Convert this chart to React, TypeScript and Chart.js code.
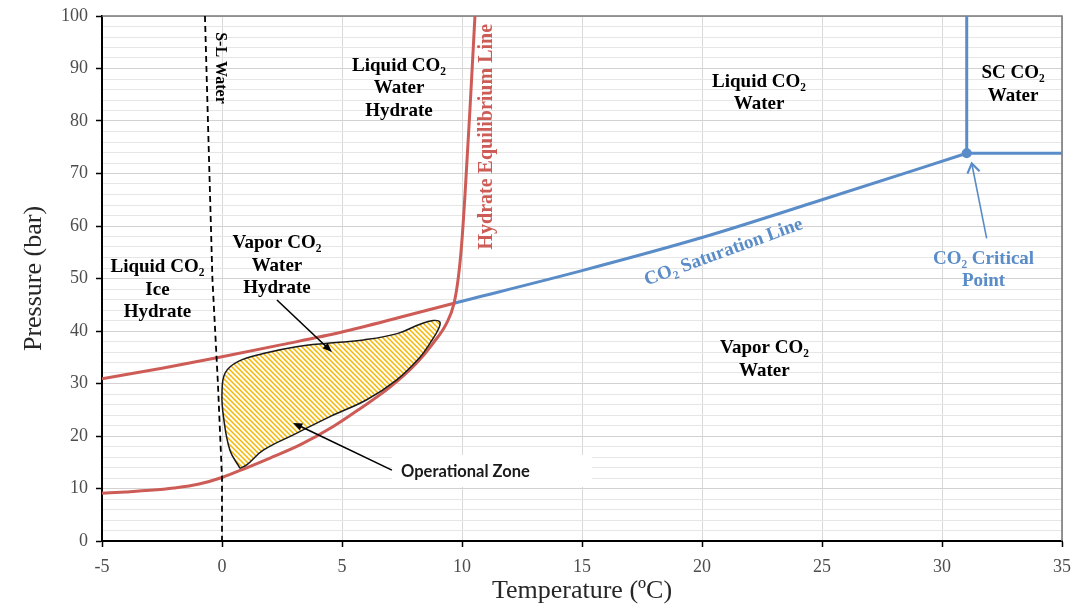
import React, { useEffect, useRef } from 'react';
import { Chart, registerables } from 'chart.js';

Chart.register(...registerables);

// ---- axes ----
const tempMin = -5;
const tempMax = 35;
const tempStep = 5;
const presMin = 0;
const presMax = 100;
const presStep = 2;
const presLabelStep = 10;

// ---- series (temperature °C, pressure bar) ----
const hydrateLowerT = [-5, -4, -3, -2, -1, 0, 1, 2, 3.25, 4.6, 5.75, 7, 8.11, 8.8, 9.36, 9.67, 9.85, 9.99, 10.13, 10.33, 10.54];
const hydrateLowerP = [9.1, 9.35, 9.65, 10.1, 10.8, 12.1, 13.9, 15.8, 18.3, 21.7, 25.2, 29.3, 33.9, 37.7, 41.5, 45.3, 50.3, 56.8, 66.3, 82.1, 100];
const hydrateUpperT = [-5, -2.5, 0, 2.5, 5, 7.5, 9.67];
const hydrateUpperP = [30.9, 32.9, 35.1, 37.4, 39.8, 42.7, 45.3];
const saturationT = [9.67, 15, 20, 25, 31.03];
const saturationP = [45.3, 51.5, 57.8, 65, 73.85];
const criticalT = [31.03];
const criticalP = [73.85];
const scVerticalT = [31.03, 31.03];
const scVerticalP = [73.85, 100];
const scHorizontalT = [31.03, 35];
const scHorizontalP = [73.85, 73.85];
const slWaterT = [-0.71, -0.4, -0.17, 0, 0];
const slWaterP = [100, 50, 30, 12, 0];
const zoneT = [0.75, 0.33, 0.06, 0.0, 0.13, 0.68, 1.72, 3.1, 4.5, 5.9, 7.3, 8.25, 8.8, 9.08, 9.0, 8.67, 8.25, 7.28, 6.03, 4.5, 3.1, 1.72, 1.03, 0.75];
const zoneP = [13.85, 17.3, 23.7, 28.1, 32, 34.2, 35.7, 37, 37.7, 38.3, 39.5, 41.3, 42.0, 41.7, 40.2, 37.7, 35.0, 30.7, 26.9, 23.7, 20.5, 17.3, 14.5, 13.85];

// ---- text annotations (anchored in data units) ----
const regionLabels = [
  { lines: ['Liquid CO₂', 'Water', 'Hydrate'], t: 7.375, p: 86.2, color: '#000' },
  { lines: ['Liquid CO₂', 'Water'], t: 22.375, p: 85.3, color: '#000' },
  { lines: ['SC CO₂', 'Water'], t: 32.96, p: 86.9, color: '#000' },
  { lines: ['Vapor CO₂', 'Water', 'Hydrate'], t: 2.29, p: 52.4, color: '#000' },
  { lines: ['Liquid CO₂', 'Ice', 'Hydrate'], t: -2.69, p: 47.8, color: '#000' },
  { lines: ['Vapor CO₂', 'Water'], t: 22.6, p: 34.6, color: '#000' },
  { lines: ['CO₂ Critical', 'Point'], t: 31.73, p: 51.6, color: 'blue' },
];
const rotatedLabels = [
  { text: 'S-L Water', t: -0.08, p: 90.1, angle: 90, size: 16, color: '#000' },
  { text: 'Hydrate Equilibrium Line', t: 11.02, p: 77.0, angle: -90, size: 20, color: 'red' },
  { text: 'CO₂ Saturation Line', t: 20.9, p: 55.0, angle: -20, size: 19, color: 'blue' },
];
const arrows = [
  { from: [2.29, 45.9], to: [4.58, 36.0], color: 'black', filled: true },
  { from: [7.08, 13.5], to: [2.96, 22.5], color: 'black', filled: true },
  { from: [31.86, 57.66], to: [31.24, 71.9], color: 'blue', filled: false },
];
const zoneBox = { t1: 7.08, t2: 15.42, p1: 16.38, p2: 10.29, text: 'Operational Zone', textT: 7.46, textP: 13.3 };

const RED = '#cd5c57';
const BLUE = '#5a8cc8';
const YELLOW = '#f6b600';
const colorOf = (c: string) => (c === 'red' ? RED : c === 'blue' ? BLUE : '#000');

const pts = (xs: number[], ys: number[]) => xs.map((x, i) => ({ x, y: ys[i] }));

function drawArrow(ctx: CanvasRenderingContext2D, x1: number, y1: number, x2: number, y2: number, color: string, filled: boolean) {
  const a = Math.atan2(y2 - y1, x2 - x1);
  ctx.save();
  ctx.strokeStyle = color;
  ctx.fillStyle = color;
  ctx.lineWidth = 1.6;
  const head = filled ? 10 : 11;
  const spread = filled ? 0.38 : 0.6;
  ctx.beginPath();
  ctx.moveTo(x1, y1);
  const endX = filled ? x2 - head * 0.8 * Math.cos(a) : x2;
  const endY = filled ? y2 - head * 0.8 * Math.sin(a) : y2;
  ctx.lineTo(endX, endY);
  ctx.stroke();
  const hx1 = x2 - head * Math.cos(a - spread);
  const hy1 = y2 - head * Math.sin(a - spread);
  const hx2 = x2 - head * Math.cos(a + spread);
  const hy2 = y2 - head * Math.sin(a + spread);
  ctx.beginPath();
  if (filled) {
    ctx.moveTo(x2, y2);
    ctx.lineTo(hx1, hy1);
    ctx.lineTo(hx2, hy2);
    ctx.closePath();
    ctx.fill();
  } else {
    ctx.lineWidth = 2.2;
    ctx.moveTo(hx1, hy1);
    ctx.lineTo(x2, y2);
    ctx.lineTo(hx2, hy2);
    ctx.stroke();
  }
  ctx.restore();
}

const annotationPlugin = {
  id: 'phaseAnnotations',
  beforeDatasetsDraw(chart: any) {
    const { ctx, chartArea } = chart;
    ctx.save();
    ctx.strokeStyle = '#7a7a7a';
    ctx.lineWidth = 1.6;
    ctx.beginPath();
    ctx.moveTo(chartArea.left, chartArea.top);
    ctx.lineTo(chartArea.right, chartArea.top);
    ctx.lineTo(chartArea.right, chartArea.bottom);
    ctx.stroke();
    ctx.restore();
  },
  afterDatasetsDraw(chart: any) {
    const { ctx } = chart;
    const xs = chart.scales.x;
    const ys = chart.scales.y;
    const X = (v: number) => xs.getPixelForValue(v);
    const Y = (v: number) => ys.getPixelForValue(v);
    ctx.save();

    // operational zone callout box
    ctx.fillStyle = '#ffffff';
    ctx.fillRect(X(zoneBox.t1), Y(zoneBox.p1), X(zoneBox.t2) - X(zoneBox.t1), Y(zoneBox.p2) - Y(zoneBox.p1));
    ctx.fillStyle = '#1a1a1a';
    ctx.font = 'bold 16.5px Lato, "Open Sans", sans-serif';
    ctx.textAlign = 'left';
    ctx.textBaseline = 'middle';
    ctx.fillText(zoneBox.text, X(zoneBox.textT), Y(zoneBox.textP));

    // arrows
    arrows.forEach((a) => {
      drawArrow(ctx, X(a.from[0]), Y(a.from[1]), X(a.to[0]), Y(a.to[1]), colorOf(a.color), a.filled);
    });

    // region labels
    ctx.textAlign = 'center';
    ctx.textBaseline = 'middle';
    ctx.font = 'bold 19px "Liberation Serif", "Times New Roman", serif';
    const lh = 22.5;
    regionLabels.forEach((l) => {
      ctx.fillStyle = colorOf(l.color);
      const cx = X(l.t);
      const cy = Y(l.p);
      const start = cy - ((l.lines.length - 1) * lh) / 2;
      l.lines.forEach((s, i) => ctx.fillText(s, cx, start + i * lh));
    });

    // rotated labels
    rotatedLabels.forEach((l) => {
      ctx.save();
      ctx.translate(X(l.t), Y(l.p));
      ctx.rotate((l.angle * Math.PI) / 180);
      ctx.font = `bold ${l.size}px "Liberation Serif", "Times New Roman", serif`;
      ctx.fillStyle = colorOf(l.color);
      ctx.fillText(l.text, 0, 0);
      ctx.restore();
    });
    ctx.restore();
  },
};

export default function App() {
  const ref = useRef<HTMLCanvasElement>(null);

  useEffect(() => {
    const canvas = ref.current;
    if (!canvas) return;
    const tile = document.createElement('canvas');
    tile.width = 10;
    tile.height = 10;
    const tc = tile.getContext('2d')!;
    tc.fillStyle = '#ffffff';
    tc.fillRect(0, 0, 10, 10);
    tc.strokeStyle = YELLOW;
    tc.lineWidth = 1.5;
    for (let k = -3; k <= 2; k++) {
      tc.beginPath();
      tc.moveTo(k * 5 - 2, -2);
      tc.lineTo(k * 5 + 12, 12);
      tc.stroke();
    }
    const pattern = canvas.getContext('2d')!.createPattern(tile, 'repeat');

    const line = (data: any, color: string, width: number, extra: any = {}) => ({
      data,
      borderColor: color,
      backgroundColor: color,
      borderWidth: width,
      showLine: true,
      pointRadius: 0,
      fill: false,
      ...extra,
    });

    const serif = '"Liberation Serif", "Times New Roman", serif';

    const chart = new Chart(canvas, {
      type: 'scatter',
      data: {
        datasets: [
          line(pts(zoneT, zoneP), '#1a1a1a', 1.5, { fill: 'shape', backgroundColor: pattern, tension: 0.4 }),
          line(pts(slWaterT, slWaterP), '#000', 1.8, { borderDash: [6, 4] }),
          line(pts(hydrateUpperT, hydrateUpperP), RED, 3, { cubicInterpolationMode: 'monotone' }),
          line(pts(hydrateLowerT, hydrateLowerP), RED, 3, { cubicInterpolationMode: 'monotone' }),
          line(pts(saturationT, saturationP), BLUE, 3, { cubicInterpolationMode: 'monotone' }),
          line(pts(scVerticalT, scVerticalP), BLUE, 3),
          line(pts(scHorizontalT, scHorizontalP), BLUE, 3),
          {
            data: pts(criticalT, criticalP),
            showLine: false,
            pointRadius: 5,
            pointBackgroundColor: BLUE,
            pointBorderColor: BLUE,
            pointBorderWidth: 0,
          },
        ],
      },
      options: {
        responsive: false,
        animation: false,
        events: [],
        layout: { padding: { left: 0, top: 16, right: 11, bottom: 0 } },
        plugins: {
          legend: { display: false },
          tooltip: { enabled: false },
        },
        scales: {
          x: {
            type: 'linear',
            min: tempMin,
            max: tempMax,
            afterFit: (s: any) => {
              s.height = 69;
              s.paddingLeft = 0;
              s.paddingRight = 0;
            },
            ticks: {
              stepSize: tempStep,
              color: '#4d4d4d',
              padding: 9,
              font: { family: serif, size: 18 },
            },
            grid: { color: '#d9d9d9', lineWidth: 1, tickColor: '#000', tickLength: 6, tickWidth: 1.5 },
            border: { color: '#000', width: 2 },
            title: {
              display: true,
              text: 'Temperature (ºC)',
              color: '#262626',
              padding: { top: 0, bottom: 3 },
              font: { family: serif, size: 26 },
            },
          },
          y: {
            type: 'linear',
            min: presMin,
            max: presMax,
            afterFit: (s: any) => {
              s.width = 102;
              s.paddingTop = 0;
              s.paddingBottom = 0;
            },
            ticks: {
              stepSize: presStep,
              autoSkip: false,
              color: '#4d4d4d',
              padding: 8,
              font: { family: serif, size: 18 },
              callback: (v: any) => (Number(v) % presLabelStep === 0 ? String(v) : ''),
            },
            grid: {
              color: (c: any) => (c.tick && c.tick.value % presLabelStep === 0 ? '#d2d2d2' : '#e6e6e6'),
              tickColor: (c: any) => (c.tick && c.tick.value % presLabelStep === 0 ? '#000' : 'rgba(0,0,0,0)'),
              lineWidth: 1,
              tickLength: 6,
              tickWidth: 1.5,
            },
            border: { color: '#000', width: 2 },
            title: {
              display: true,
              text: 'Pressure (bar)',
              color: '#262626',
              padding: { top: 19, bottom: 0 },
              font: { family: serif, size: 26 },
            },
          },
        },
      },
      plugins: [annotationPlugin],
    } as any);

    return () => chart.destroy();
  }, []);

  return (
    <div style={{ position: 'absolute', left: 0, top: 0, width: 1073, height: 610, background: '#fff' }}>
      <canvas ref={ref} width={1073} height={610} style={{ display: 'block' }} />
    </div>
  );
}
